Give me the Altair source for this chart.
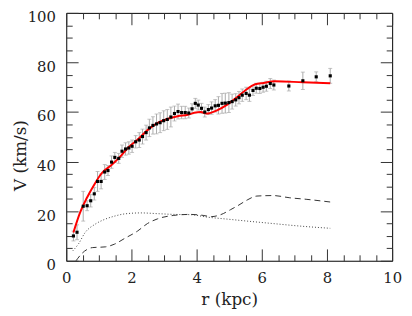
import altair as alt
import pandas as pd

# observed rotation curve
r_obs = [0.22, 0.33, 0.52, 0.64, 0.75, 0.86, 0.96, 1.07, 1.18, 1.28, 1.39, 1.49, 1.61, 1.71,
         1.82, 1.92, 2.02, 2.13, 2.24, 2.34, 2.45, 2.55, 2.66, 2.77, 2.88, 2.99, 3.10, 3.21,
         3.32, 3.43, 3.54, 3.65, 3.76, 3.86, 3.96, 4.05, 4.15, 4.25, 4.36, 4.46, 4.57, 4.67,
         4.78, 4.88, 4.99, 5.09, 5.20, 5.30, 5.40, 5.52, 5.62, 5.73, 5.83, 5.94, 6.04, 6.14,
         6.26, 6.37, 6.83, 7.26, 7.67, 8.10]
v_obs = [10.0, 11.5, 22.0, 22.2, 24.2, 27.0, 32.0, 32.0, 35.8, 36.4, 39.8, 41.7, 41.3, 44.2,
         45.1, 45.5, 46.2, 48.0, 48.7, 50.1, 51.7, 53.6, 54.6, 55.2, 55.7, 56.5, 57.0, 58.0,
         59.4, 60.2, 59.8, 59.8, 59.6, 61.3, 63.5, 62.8, 61.5, 60.0, 61.0, 61.6, 62.5, 62.7,
         63.5, 63.6, 63.8, 64.2, 64.9, 65.8, 66.8, 67.5, 66.8, 68.7, 69.6, 69.5, 70.0, 70.4,
         71.5, 70.9, 70.5, 72.6, 74.2, 74.6]
e_obs = [2.0, 3.0, 6.0, 2.0, 2.5, 2.5, 4.0, 3.0, 3.0, 2.0, 2.5, 2.0, 2.0, 2.5,
         2.5, 2.5, 2.5, 2.5, 3.0, 3.0, 3.0, 3.5, 3.5, 4.0, 4.0, 4.0, 4.0, 4.0,
         3.0, 3.0, 2.5, 2.5, 2.0, 2.0, 2.0, 2.0, 2.0, 2.0, 2.0, 2.5, 2.5, 3.5,
         4.0, 4.0, 4.0, 3.0, 2.5, 2.5, 2.5, 2.5, 2.5, 2.0, 2.0, 2.0, 2.0, 2.0,
         2.0, 2.0, 2.0, 3.5, 2.0, 3.0]

# total model (red)
r_fit = [0.22, 0.42, 0.63, 0.88, 1.08, 1.38, 1.64, 1.91, 2.21, 2.52, 2.82, 3.12, 3.42,
         3.73, 3.93, 4.13, 4.30, 4.64, 4.94, 5.24, 5.50, 5.80, 6.05, 6.40, 7.26, 8.10]
v_fit = [11.4, 19.3, 25.3, 31.2, 35.2, 38.5, 41.8, 45.8, 49.1, 53.0, 55.7, 57.3, 58.3,
         58.9, 59.7, 60.0, 59.4, 60.8, 63.0, 66.0, 68.8, 71.2, 71.7, 72.4, 72.0, 71.6]

# dotted component
r_dot = [0.20, 0.37, 0.58, 0.88, 1.18, 1.48, 1.79, 2.29, 2.80, 3.30, 3.80, 4.33, 4.94,
         5.55, 6.35, 7.16, 8.10]
v_dot = [4.0, 6.7, 11.4, 14.7, 16.7, 18.0, 18.9, 19.3, 19.0, 18.7, 18.6, 17.6, 16.8,
         16.0, 15.0, 14.0, 13.1]

# dashed component
r_dash = [0.30, 0.47, 0.63, 0.80, 1.20, 1.48, 1.79, 2.19, 2.49, 2.80, 3.30, 3.80, 4.20,
          4.45, 4.74, 5.04, 5.30, 5.55, 5.85, 6.35, 6.86, 7.36, 8.10]
v_dash = [0.0, 2.8, 4.5, 5.3, 5.6, 6.7, 9.0, 12.0, 15.0, 16.9, 18.3, 18.7, 18.3,
          17.8, 18.6, 20.6, 22.5, 24.5, 26.1, 26.3, 25.4, 24.8, 23.7]

x_major = [0, 2, 4, 6, 8, 10]
x_minor = [0.5, 1, 1.5, 2.5, 3, 3.5, 4.5, 5, 5.5, 6.5, 7, 7.5, 8.5, 9, 9.5]
y_major = [0, 20, 40, 60, 80, 100]
y_minor = [5, 10, 15, 25, 30, 35, 45, 50, 55, 65, 70, 75, 85, 90, 95]

obs = pd.DataFrame({"r": r_obs, "v": v_obs,
                    "lo": [v - e for v, e in zip(v_obs, e_obs)],
                    "hi": [v + e for v, e in zip(v_obs, e_obs)]})
fit = pd.DataFrame({"r": r_fit, "v": v_fit})
dot = pd.DataFrame({"r": r_dot, "v": v_dot})
dash = pd.DataFrame({"r": r_dash, "v": v_dash})

FONT = "DejaVu Serif"
TICK = "#333333"
xs = alt.Scale(domain=[0, 10], nice=False, zero=False)
ys = alt.Scale(domain=[0, 100], nice=False, zero=False)


def ax(orient, values, size, labels=False, **kw):
    return alt.Axis(orient=orient, values=values, tickSize=size, offset=-size,
                    domain=False, grid=False, labels=labels, tickColor=TICK,
                    tickWidth=1, labelFont=FONT, labelFontSize=15, labelColor="#222",
                    labelFlush=False, labelOverlap=False, titleFont=FONT,
                    titleFontSize=17, titleFontWeight="normal", titleColor="#222", **kw)


base_obs = alt.Chart(obs)

errs = base_obs.mark_rule(color="#aaaaaa", strokeWidth=1).encode(
    x=alt.X("r:Q", scale=xs, axis=ax("bottom", x_major, 12, labels=True, labelPadding=10,
                                    titleY=43, titleBaseline="top"),
            title="r (kpc)"),
    y=alt.Y("lo:Q", scale=ys, axis=ax("left", y_major, 12, labels=True, labelPadding=11,
                                     labelOffset=4, titleX=-58, titleY=144,
                                     titleBaseline="middle"),
            title="V (km/s)"),
    y2="hi:Q",
)
cap_lo = base_obs.mark_tick(orient="horizontal", size=4, thickness=1, color="#aaaaaa").encode(
    x=alt.X("r:Q", scale=xs, axis=None), y=alt.Y("lo:Q", scale=ys, axis=None))
cap_hi = base_obs.mark_tick(orient="horizontal", size=4, thickness=1, color="#aaaaaa").encode(
    x=alt.X("r:Q", scale=xs, axis=None), y=alt.Y("hi:Q", scale=ys, axis=None))

pts = base_obs.mark_square(size=10, color="black", opacity=1).encode(
    x=alt.X("r:Q", scale=xs, axis=ax("bottom", x_minor, 6), title=None),
    y=alt.Y("v:Q", scale=ys, axis=ax("left", y_minor, 6), title=None),
)

red = alt.Chart(fit).mark_line(color="#ff0000", strokeWidth=2, interpolate="monotone").encode(
    x=alt.X("r:Q", scale=xs, axis=ax("top", x_major, 12), title=None),
    y=alt.Y("v:Q", scale=ys, axis=ax("right", y_major, 12), title=None),
)

dotted = alt.Chart(dot).mark_line(color="#444444", strokeWidth=1, strokeDash=[1, 2],
                                  interpolate="monotone").encode(
    x=alt.X("r:Q", scale=xs, axis=ax("top", x_minor, 6), title=None),
    y=alt.Y("v:Q", scale=ys, axis=ax("right", y_minor, 6), title=None),
)

dashed = alt.Chart(dash).mark_line(color="#333333", strokeWidth=1, strokeDash=[6, 4],
                                   interpolate="monotone").encode(
    x=alt.X("r:Q", scale=xs, axis=None),
    y=alt.Y("v:Q", scale=ys, axis=None),
)

chart = alt.layer(errs, cap_lo, cap_hi, dotted, dashed, red, pts).resolve_axis(
    x="independent", y="independent"
).properties(
    width=330, height=251,
    autosize=alt.AutoSizeParams(type="none"),
    padding={"left": 59, "top": 3, "right": 12, "bottom": 54},
    background="white",
).configure_view(stroke="black", strokeWidth=1)

chart.save("out.html", embed_options={"renderer": "svg", "actions": False})
